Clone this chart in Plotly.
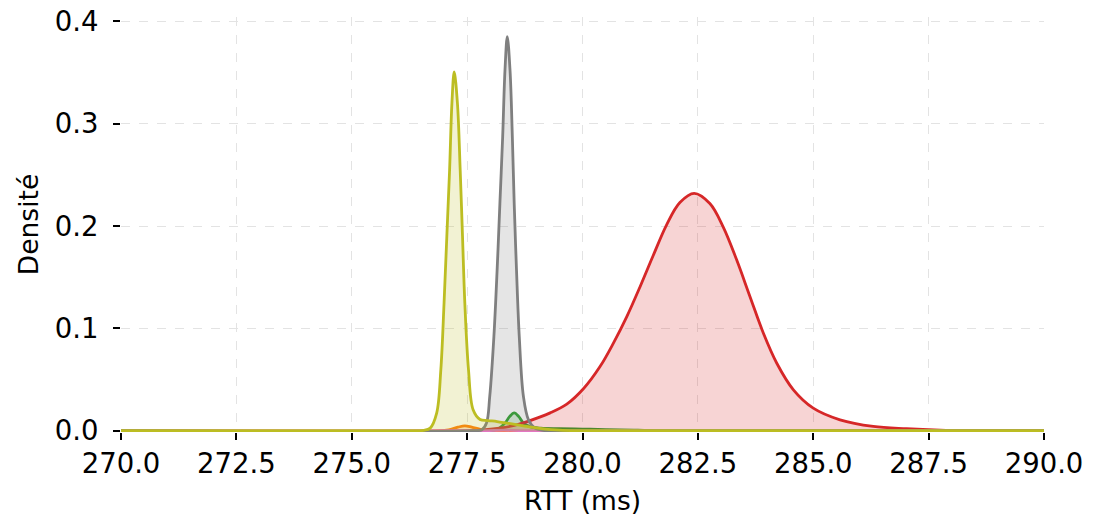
import plotly.graph_objects as go

# --- data (RTT in ms, density) ---
orange_x = [270, 276.9, 277.1, 277.3, 277.45, 277.6, 277.8, 278.0, 290]
orange_y = [0, 0, 0.001, 0.0035, 0.0048, 0.0035, 0.0012, 0, 0]

green_x = [270, 277.9, 278.15, 278.32, 278.42, 278.52, 278.62, 278.72, 278.86, 279.1, 279.5, 280.0, 280.5, 281.2, 282.0, 290]
green_y = [0, 0, 0.0015, 0.0075, 0.0138, 0.0175, 0.0138, 0.0075, 0.004, 0.0025, 0.002, 0.0016, 0.0012, 0.0005, 0, 0]

red_x = [270, 277.5, 277.9, 278.2, 278.5, 278.8, 279.30, 279.66, 280.02, 280.38, 280.67, 280.96, 281.25, 281.53,
         281.82, 282.11, 282.42, 282.76, 283.05, 283.34, 283.63, 283.92, 284.21, 284.57, 285.00, 285.58, 286.30,
         287.02, 287.75, 288.5, 289.2, 290]
red_y = [0, 0, 0.001, 0.0025, 0.005, 0.009, 0.0175, 0.026, 0.041, 0.0627, 0.0856, 0.1115, 0.141, 0.171,
         0.201, 0.223, 0.232, 0.222, 0.199, 0.167, 0.131, 0.0953, 0.066, 0.040, 0.0221, 0.0107, 0.0042,
         0.002, 0.0007, 0.0002, 0.00005, 0]

pink_x = [270, 277.8, 278.3, 278.8, 290]
pink_y = [0, 0, 0.0006, 0, 0]

gray_x = [270, 277.6, 277.82, 277.92, 277.99, 278.08, 278.15, 278.21, 278.27, 278.32, 278.37, 278.43, 278.48,
          278.52, 278.57, 278.63, 278.72, 278.83, 278.97, 279.14, 279.4, 290]
gray_y = [0, 0, 0.001, 0.0075, 0.0335, 0.092, 0.157, 0.222, 0.287, 0.352, 0.385, 0.352, 0.287,
          0.222, 0.157, 0.092, 0.0335, 0.0107, 0.0026, 0.0005, 0, 0]

olive_x = [270, 276.3, 276.55, 276.70, 276.84, 276.93, 277.00, 277.06, 277.12, 277.17, 277.22, 277.29, 277.35,
           277.40, 277.45, 277.53, 277.63, 277.78, 277.95, 278.15, 278.36, 278.6, 278.79, 279.08, 279.5, 280.0, 290]
olive_y = [0, 0, 0.0004, 0.0026, 0.0172, 0.0595, 0.1246, 0.1896, 0.2546, 0.3197, 0.3506, 0.320, 0.2546,
           0.190, 0.125, 0.0595, 0.0205, 0.0110, 0.0100, 0.0090, 0.0075, 0.0058, 0.0042, 0.0024, 0.0006, 0.0001, 0]

x_ticks = [270.0, 272.5, 275.0, 277.5, 280.0, 282.5, 285.0, 287.5, 290.0]
y_ticks = [0.0, 0.1, 0.2, 0.3, 0.4]

series = [
    (orange_x, orange_y, "#ff7f0e", "rgba(255,127,14,0.2)"),
    (green_x, green_y, "#2ca02c", "rgba(44,160,44,0.2)"),
    (red_x, red_y, "#d62728", "rgba(214,39,40,0.2)"),
    (pink_x, pink_y, "#e377c2", "rgba(227,119,194,0.2)"),
    (gray_x, gray_y, "#7f7f7f", "rgba(127,127,127,0.2)"),
    (olive_x, olive_y, "#bcbd22", "rgba(188,189,34,0.2)"),
]

fig = go.Figure()
for xs, ys, col, fcol in series:
    fig.add_trace(go.Scatter(
        x=xs, y=ys, mode="lines",
        line=dict(color=col, width=2.8, shape="spline", smoothing=1.0),
        fill="tozeroy", fillcolor=fcol, showlegend=False, hoverinfo="skip",
    ))

title_font = dict(family="DejaVu Sans", size=26.5, color="#000000")
tick_font = dict(family="DejaVu Sans", size=27.5, color="#000000")
fig.update_layout(
    width=1111, height=517,
    margin=dict(l=113, r=75, t=9, b=93, autoexpand=False),
    paper_bgcolor="white", plot_bgcolor="white",
    font=title_font, showlegend=False,
)
fig.update_xaxes(
    range=[270, 290], tickvals=x_ticks, ticktext=[f"{v:.1f}" for v in x_ticks],
    ticks="outside", ticklen=7, tickwidth=1.5, tickcolor="#000000",
    tickfont=tick_font, ticklabelstandoff=0, ticklabeloverflow="allow", automargin=False,
    showline=False, zeroline=False,
    showgrid=True, gridcolor="#e3e3e3", gridwidth=1.3, griddash="dash",
    title=dict(text="RTT (ms)", font=title_font, standoff=13),
)
fig.update_yaxes(
    range=[-0.0012, 0.4043], tickvals=y_ticks, ticktext=[f"{v:.1f}" for v in y_ticks],
    ticks="outside", ticklen=7, tickwidth=1.5, tickcolor="#000000",
    tickfont=tick_font, ticklabelstandoff=9, ticklabeloverflow="allow", automargin=False,
    showline=False, zeroline=False,
    showgrid=True, gridcolor="#e3e3e3", gridwidth=1.3, griddash="dash",
    title=dict(text="Densité", font=title_font, standoff=8),
)

fig.write_html("out.html")
